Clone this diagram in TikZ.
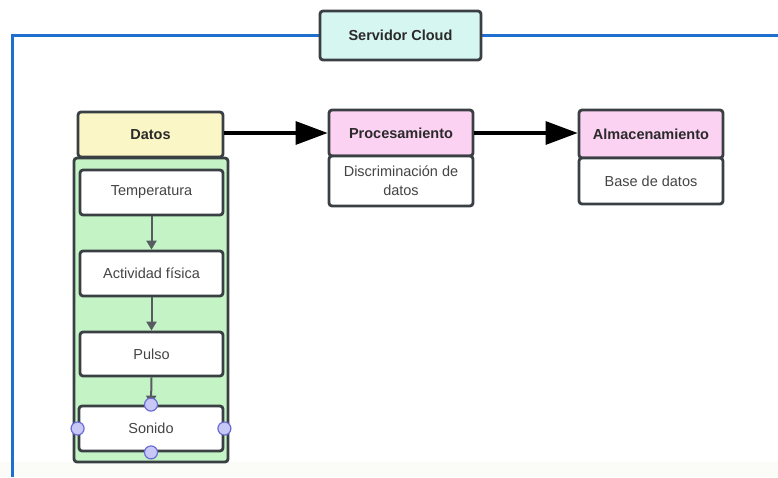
\documentclass[tikz,border=0pt]{standalone}
\usepackage{fontspec}
\setmainfont{Liberation Sans}
\usetikzlibrary{arrows.meta}
\definecolor{edge}{HTML}{3A3F44}
\definecolor{cloudblue}{HTML}{1F6FD0}
\definecolor{cyanfill}{HTML}{D6F6F1}
\definecolor{yellowfill}{HTML}{FAF6C6}
\definecolor{greenfill}{HTML}{C4F3C6}
\definecolor{pinkfill}{HTML}{FCD2F3}
\definecolor{handlefill}{HTML}{C8C8F6}
\definecolor{handleedge}{HTML}{6C6CD6}
\definecolor{txt}{HTML}{444444}
\definecolor{hdrtxt}{HTML}{2A2A2A}
\definecolor{bandfill}{HTML}{FBFBF7}
\tikzset{
  x=1pt, y=-1pt,
  box/.style={draw=edge, line width=2.8pt, rounded corners=3pt, inner sep=0pt, text=txt, font=\fontsize{14.5}{19}\selectfont},
  hdr/.style={box, text=hdrtxt, font=\bfseries\fontsize{14.5}{17}\selectfont},
  flowarrow/.style={-{Triangle[length=32pt,width=23pt]}, line width=3.2pt, black},
  smallarrow/.style={-{Triangle[length=9pt,width=10pt]}, line width=2pt, edge!85},
  handle/.style={circle, draw=handleedge, fill=handlefill, line width=1.2pt, minimum size=13pt, inner sep=0pt},
}
\begin{document}
\begin{tikzpicture}
\useasboundingbox (0,0) rectangle (778,477);
\fill[white] (0,0) rectangle (778,477);
\fill[bandfill] (0,462) rectangle (778,477);
% cloud frame
\draw[cloudblue, line width=3pt] (778,35) -- (12,35) -- (12,477);
\node[hdr, fill=cyanfill, minimum width=161pt, minimum height=49pt] (cloud) at (400.5,35.5) {Servidor Cloud};
% green container
\node[box, fill=greenfill, minimum width=154pt, minimum height=304pt] (cont) at (151,310) {};
\node[hdr, fill=yellowfill, minimum width=145pt, minimum height=45pt] (datos) at (150.5,134.5) {Datos};
\node[box, fill=white, minimum width=143pt, minimum height=45pt] (temp) at (151.5,192.5) {Temperatura};
\node[box, fill=white, minimum width=143pt, minimum height=45pt] (act) at (151.5,273.5) {Actividad física};
\node[box, fill=white, minimum width=143pt, minimum height=44pt] (pulso) at (151.5,354) {Pulso};
\node[box, fill=white, minimum width=144pt, minimum height=45pt] (sonido) at (151,428.5) {Sonido};
\draw[smallarrow] (temp.south) -- (act.north);
\draw[smallarrow] (act.south) -- (pulso.north);
\draw[smallarrow] (pulso.south) -- (sonido.north);
\node[handle] (h1) at (sonido.north) {};
\node[handle] (h2) at (sonido.south) {};
\node[handle] (h3) at (sonido.west) {};
\node[handle] (h4) at (sonido.east) {};
% processing
\node[hdr, fill=pinkfill, minimum width=144pt, minimum height=46pt] (proc) at (401,133) {Procesamiento};
\node[box, fill=white, minimum width=144pt, minimum height=50pt, align=center] (procb) at (401,181) {Discriminación de\\datos};
\node[hdr, fill=pinkfill, minimum width=144pt, minimum height=48pt] (alm) at (651,134) {Almacenamiento};
\node[box, fill=white, minimum width=144pt, minimum height=46pt] (almb) at (651,181) {Base de datos};
\draw[flowarrow] (datos.east |- proc.west) -- (proc.west);
\draw[flowarrow] (proc.east) -- (alm.west |- proc.east);
\end{tikzpicture}
\end{document}
